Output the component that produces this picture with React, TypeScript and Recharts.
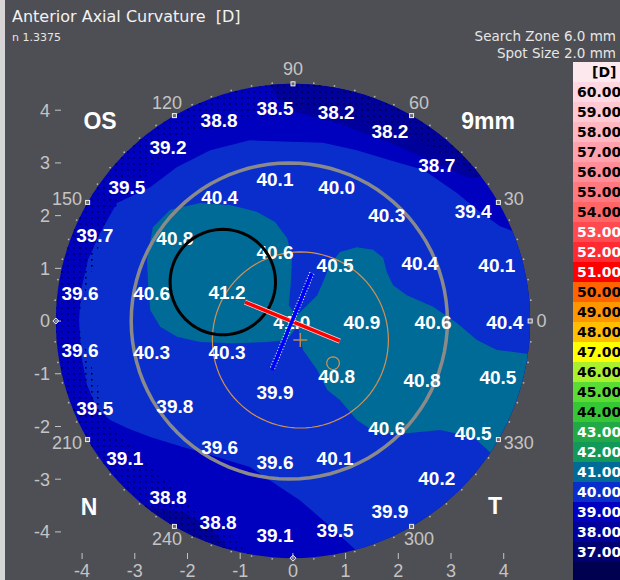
import React from "react";
import { ScatterChart, Scatter, XAxis, YAxis } from "recharts";

const SANS = "'Liberation Sans', Arial, sans-serif";
const VERA = "'DejaVu Sans', Verdana, sans-serif";

// colour scale, dioptres (legend top to bottom)
const scaleValues = [60, 59, 58, 57, 56, 55, 54, 53, 52, 51, 50, 49, 48, 47, 46, 45, 44, 43, 42, 41, 40, 39, 38, 37];
const scaleColors = [
  "#ffd8e2", "#ffc8d2", "#ffb8c2", "#ffa2ae", "#ff8e98", "#ff7a80", "#ff6668", "#ff4a50",
  "#ff2a32", "#ff0000", "#ff6400", "#ff9600", "#ffbe00", "#ffff00", "#aaf02c", "#5adc34",
  "#36c834", "#22a846", "#129858", "#006b96", "#0a2ecb", "#0000bf", "#00009a", "#000070",
];
const scaleInk = [
  "#000", "#000", "#000", "#000", "#000", "#000", "#000", "#fff", "#fff", "#fff", "#000", "#000",
  "#000", "#000", "#000", "#000", "#000", "#fff", "#fff", "#fff", "#fff", "#fff", "#fff", "#fff",
];
const colorOf = (d: number) => scaleColors[scaleValues.indexOf(d)];

const axisTicks = [-4, -3, -2, -1, 0, 1, 2, 3, 4];
const meridians = [0, 30, 60, 90, 120, 150, 210, 240, 300, 330];

// curvature readings: x mm, y mm, dioptres
const readings: [number, number, number][] = [
  [-0.34, 4.04, 38.5], [0.82, 3.95, 38.2], [-1.4, 3.8, 38.8], [1.84, 3.59, 38.2],
  [-2.37, 3.3, 39.2], [2.73, 2.96, 38.7], [-3.15, 2.54, 39.5], [-0.34, 2.68, 40.1],
  [0.83, 2.54, 40.0], [-1.39, 2.35, 40.4], [3.42, 2.07, 39.4], [1.78, 2.01, 40.3],
  [-3.76, 1.63, 39.7], [-2.24, 1.57, 40.8], [-0.34, 1.31, 40.6], [0.8, 1.06, 40.5],
  [2.41, 1.1, 40.4], [3.87, 1.06, 40.1], [-4.04, 0.53, 39.6], [-2.68, 0.53, 40.6],
  [-1.25, 0.55, 41.2], [-0.02, -0.02, 41.0], [1.31, -0.02, 40.9], [2.66, -0.02, 40.6],
  [4.02, -0.02, 40.4], [-4.04, -0.55, 39.6], [-2.68, -0.59, 40.3], [-1.25, -0.59, 40.3],
  [0.83, -1.06, 40.8], [2.45, -1.12, 40.8], [3.89, -1.08, 40.5], [-0.34, -1.35, 39.9],
  [-3.76, -1.65, 39.5], [-2.24, -1.63, 39.8], [1.78, -2.03, 40.6], [3.42, -2.13, 40.5],
  [-1.39, -2.39, 39.6], [-3.19, -2.6, 39.1], [-0.34, -2.69, 39.6], [0.8, -2.6, 40.1],
  [2.73, -2.98, 40.2], [-2.37, -3.34, 38.8], [-1.42, -3.83, 38.8], [1.84, -3.62, 39.9],
  [-0.34, -4.06, 39.1], [0.8, -3.97, 39.5],
];

// iso-curvature zones (mm); points beyond the 9 mm disk are clipped away
const zone38Top: [number, number][] = [
  [-0.53, 4.76], [-0.32, 4.27], [-0.06, 4.0], [0.89, 3.74], [1.84, 3.38], [2.6, 3.05],
  [3.36, 2.71], [4.31, 2.87], [2.03, 4.76],
];
const zone38Low: [number, number][] = [
  [-3.0, -3.49], [-2.09, -3.62], [-1.57, -3.93], [-1.16, -4.38], [-1.01, -4.82], [-3.28, -4.25],
];
const zone40: [number, number][] = [
  [4.78, 1.54], [4.31, 1.65], [3.93, 1.8], [3.55, 2.07], [3.11, 2.43], [2.47, 2.87], [1.84, 3.05],
  [1.21, 3.24], [0.57, 3.38], [-0.06, 3.4], [-0.82, 3.43], [-1.57, 3.24], [-2.2, 2.92], [-2.71, 2.54],
  [-3.34, 2.24], [-3.66, 1.67], [-3.89, 1.16], [-4.02, 0.59], [-4.06, 0.02], [-4.02, -0.65],
  [-3.91, -1.21], [-3.72, -1.65], [-3.47, -1.88], [-3.15, -2.03], [-2.71, -2.2], [-2.09, -2.39],
  [-1.44, -2.58], [-0.82, -2.77], [-0.25, -3.15], [0.13, -3.4], [0.57, -3.78], [0.99, -4.16],
  [1.31, -4.46], [1.5, -4.88], [3.55, -4.54], [5.16, -1.88], [5.26, 0.4],
];
const zone41: [number, number][] = [
  [-2.77, 1.16], [-2.66, 1.78], [-2.33, 2.11], [-1.76, 2.24], [-1.2, 2.2], [-0.68, 2.07], [-0.34, 1.88],
  [-0.11, 1.57], [-0.02, 1.2], [-0.04, 0.74], [-0.08, 0.3], [0.06, 0.09], [0.27, 0.3], [0.46, 0.49],
  [0.57, 0.74], [0.7, 1.06], [0.89, 1.31], [1.21, 1.4], [1.52, 1.35], [1.71, 1.2], [1.78, 0.93],
  [1.9, 0.68], [2.16, 0.49], [2.66, 0.27], [3.11, -0.04], [3.49, -0.36], [3.87, -0.55], [4.36, -0.61],
  [5.07, -0.7], [4.78, -2.83], [3.74, -2.49], [3.42, -2.2], [2.79, -2.07], [2.16, -2.13], [1.59, -2.13],
  [1.21, -1.88], [0.89, -1.5], [0.65, -1.31], [0.46, -0.93], [0.19, -0.55], [0.09, -0.08], [-0.11, -0.36],
  [-0.49, -0.4], [-1.14, -0.42], [-1.76, -0.4], [-2.2, -0.3], [-2.52, -0.11], [-2.71, 0.21], [-2.75, 0.72],
];
// extrapolated rim (dotted): [deg, inner radius mm]
const dottedRim: [number, number][] = [
  [35, 4.5], [45, 4.3], [60, 4.15], [90, 4.1], [120, 4.05], [150, 4.05], [180, 4.1],
  [210, 4.0], [240, 4.0], [252, 4.2], [260, 4.5],
];

const DISK_R = 4.5;
const searchZone = { x: -0.07, y: 0, r: 3.0 };
const pupil = { x: 0.14, y: -0.36, r: 1.67 };
const steepSpot = { x: -1.33, y: 0.74, r: 1.0 };
const apexMark = { x: 0.76, y: -0.8, r: 0.12 };
const steepAxis: [number, number][] = [[-0.91, 0.36], [0.89, -0.38]];
const flatAxis: [number, number][] = [[0.36, 0.91], [-0.4, -0.93]];

type P = { x: number; y: number };
const toPts = (a: [number, number][]): P[] => a.map(([x, y]) => ({ x, y }));
const polar = (deg: number, r: number): P => ({
  x: r * Math.cos((deg * Math.PI) / 180),
  y: r * Math.sin((deg * Math.PI) / 180),
});
const ring = (c: { x: number; y: number; r: number }, n = 96): P[] =>
  Array.from({ length: n }, (_, i) => {
    const t = (i / n) * 2 * Math.PI;
    return { x: c.x + c.r * Math.cos(t), y: c.y + c.r * Math.sin(t) };
  });
const pathOf = (pts: P[], close = true) =>
  "M" + pts.map((p) => `${p.x.toFixed(2)},${p.y.toFixed(2)}`).join("L") + (close ? "Z" : "");

const rimBand: P[] = [
  ...dottedRim.map(([a, r]) => polar(a, r)),
  ...dottedRim.slice().reverse().map(([a]) => polar(a, 4.85)),
];
const rimTicks = Array.from({ length: 72 }, (_, i) => polar(i * 5, 4.53));
const meridianMarks = meridians.map((a) => polar(a, DISK_R));
const axisMarks = [polar(180, DISK_R), polar(270, DISK_R)];
const meridianLabels = meridians.map((a) => {
  const c = Math.cos((a * Math.PI) / 180);
  const side = Math.abs(c) > 0.8;
  const p = polar(a, side ? 4.62 : 4.78);
  return { ...p, text: String(a), anchor: side ? (c > 0 ? "start" : "end") : "middle" };
});
const readingPts = readings.map(([x, y, v]) => ({ x, y, v }));

const none = () => <g />;
const fillShape = (fill: string) => (p: any) => (
  <path d={pathOf(p.points)} fill={fill} stroke="none" clipPath="url(#disk)" />
);
const outline = (stroke: string, width: number) => (p: any) => (
  <path d={pathOf(p.points)} fill="none" stroke={stroke} strokeWidth={width} />
);
const diskShape = (p: any) => {
  const d = pathOf(p.points);
  return (
    <g>
      <defs>
        <clipPath id="disk"><path d={d} /></clipPath>
      </defs>
      <path d={d} fill={colorOf(39)} />
    </g>
  );
};
const dottedShape = (p: any) => (
  <g>
    <defs>
      <pattern id="rimdots" x="0" y="0" width="6" height="6" patternUnits="userSpaceOnUse">
        <rect x="1" y="1" width="1.6" height="1.6" fill="#000000" />
      </pattern>
    </defs>
    <path d={pathOf(p.points)} fill="url(#rimdots)" stroke="none" clipPath="url(#disk)" />
  </g>
);
const axisLine = (color: string, dashed: boolean) => (p: any) => {
  const d = pathOf(p.points, false);
  return (
    <g>
      <path d={d} stroke={dashed ? "#ffffff" : "#ffd0d0"} strokeWidth={dashed ? 5.5 : 5} strokeDasharray={dashed ? "1 2" : undefined} fill="none" />
      <path d={d} stroke={color} strokeWidth={3.5} fill="none" />
    </g>
  );
};

const common = { isAnimationActive: false, legendType: "none" as const };

function MapLayer() {
  // hidden axes: 52.7 px per mm, centre at (293, 321)
  return (
    <ScatterChart width={620} height={580} margin={{ top: 62.77, right: 37.15, bottom: 0.77, left: 3.15 }}>
      <XAxis type="number" dataKey="x" domain={[-5.5, 5.5]} hide />
      <YAxis type="number" dataKey="y" domain={[-4.9, 4.9]} hide />
      <Scatter data={ring({ x: 0, y: 0, r: DISK_R }, 144)} shape={none} line={diskShape} {...common} />
      <Scatter data={toPts(zone38Top)} shape={none} line={fillShape(colorOf(38))} {...common} />
      <Scatter data={toPts(zone38Low)} shape={none} line={fillShape(colorOf(38))} {...common} />
      <Scatter data={toPts(zone40)} shape={none} line={fillShape(colorOf(40))} {...common} />
      <Scatter data={toPts(zone41)} shape={none} line={fillShape(colorOf(41))} {...common} />
      <Scatter data={rimBand} shape={none} line={dottedShape} {...common} />
      <Scatter data={ring(searchZone)} shape={none} line={outline("#8a8a8a", 3.5)} {...common} />
      <Scatter data={ring(pupil)} shape={none} line={outline("#d49050", 1.2)} {...common} />
      <Scatter data={ring(apexMark, 24)} shape={none} line={outline("#d49050", 1.2)} {...common} />
      <Scatter
        data={rimTicks}
        shape={(p: any) => <circle cx={p.cx} cy={p.cy} r={0.9} fill="#b4b4b4" />}
        {...common}
      />
      <Scatter
        data={meridianMarks}
        shape={(p: any) => (
          <rect x={p.cx - 2} y={p.cy - 2} width={4} height={4} fill="#6a6a6a" stroke="#eeeeee" strokeWidth={1} />
        )}
        {...common}
      />
      <Scatter
        data={axisMarks}
        shape={(p: any) => (
          <path d={`M${p.cx},${p.cy - 3}L${p.cx + 3},${p.cy}L${p.cx},${p.cy + 3}L${p.cx - 3},${p.cy}Z`} fill="#5a5a8a" stroke="#eeeeee" strokeWidth={1} />
        )}
        {...common}
      />
      <Scatter
        data={meridianLabels}
        shape={(p: any) => (
          <text x={p.cx} y={p.cy} textAnchor={p.payload.anchor} dominantBaseline="central" fill="#c4c4c4" fontFamily={SANS} fontSize={18}>
            {p.payload.text}
          </text>
        )}
        {...common}
      />
    </ScatterChart>
  );
}

function AxisLayer() {
  const tick = { fill: "#c4c4c4", fontSize: 18, fontFamily: SANS };
  return (
    <ScatterChart width={620} height={580} margin={{ top: 89.12, right: 95.2, bottom: 0, left: 0 }}>
      <XAxis type="number" dataKey="x" domain={[-4.4, 4.4]} ticks={axisTicks} interval={0} height={27}
        axisLine={false} tickLine={{ stroke: "#c4c4c4" }} tickSize={6} tickMargin={5} tick={tick} />
      <YAxis type="number" dataKey="y" domain={[-4.4, 4.4]} ticks={axisTicks} interval={0} width={61}
        axisLine={false} tickLine={{ stroke: "#c4c4c4" }} tickSize={6} tickMargin={5} tick={tick} />
      <Scatter
        data={readingPts}
        shape={(p: any) => (
          <text x={p.cx} y={p.cy} textAnchor="middle" dominantBaseline="central" fill="#fff" fontFamily={SANS} fontWeight={700} fontSize={19}>
            {p.payload.v.toFixed(1)}
          </text>
        )}
        {...common}
      />
      <Scatter data={ring(steepSpot)} shape={none} line={outline("#000", 3)} {...common} />
      <Scatter data={toPts(steepAxis)} shape={none} line={axisLine("#ff0000", false)} {...common} />
      <Scatter data={toPts(flatAxis)} shape={none} line={axisLine("#0000ff", true)} {...common} />
      <Scatter
        data={[{ x: pupil.x, y: pupil.y }]}
        shape={(p: any) => (
          <path d={`M${p.cx - 7},${p.cy}H${p.cx + 7}M${p.cx},${p.cy - 7}V${p.cy + 7}`} stroke="#b88a5a" strokeWidth={1.5} />
        )}
        {...common}
      />
    </ScatterChart>
  );
}

const abs = (x: number, y: number, extra: React.CSSProperties = {}): React.CSSProperties => ({
  position: "absolute", left: x, top: y, transform: "translate(-50%, -50%)", lineHeight: 1, whiteSpace: "pre", ...extra,
});

export default function App() {
  const corner = { color: "#fff", fontFamily: SANS, fontWeight: 700, fontSize: 23 };
  return (
    <div style={{ position: "absolute", left: 0, top: 0, width: 620, height: 580, background: "#4e4f54", overflow: "hidden" }}>
      <div style={{ position: "absolute", left: 0, top: 0, width: 5, height: 580, background: "#d6d6d6" }} />
      <div style={{ position: "absolute", left: 0, top: 0 }}><MapLayer /></div>
      <div style={{ position: "absolute", left: 0, top: 0 }}><AxisLayer /></div>

      <div style={{ position: "absolute", left: 12, top: 17, transform: "translateY(-50%)", lineHeight: 1, whiteSpace: "pre", color: "#f2f2f2", fontFamily: VERA, fontSize: 16 }}>
        {"Anterior Axial Curvature  [D]"}
      </div>
      <div style={{ position: "absolute", left: 12, top: 37, transform: "translateY(-50%)", lineHeight: 1, color: "#e6e6e6", fontFamily: VERA, fontSize: 11 }}>
        n 1.3375
      </div>
      <div style={{ position: "absolute", right: 4, top: 37, transform: "translateY(-50%)", lineHeight: 1, whiteSpace: "pre", color: "#e6e6e6", fontFamily: VERA, fontSize: 13.5 }}>
        Search Zone 6.0 mm
      </div>
      <div style={{ position: "absolute", right: 4, top: 54, transform: "translateY(-50%)", lineHeight: 1, whiteSpace: "pre", color: "#e6e6e6", fontFamily: VERA, fontSize: 13.5 }}>
        Spot Size 2.0 mm
      </div>

      <div style={abs(100, 121, corner)}>OS</div>
      <div style={abs(488, 121, corner)}>9mm</div>
      <div style={abs(89, 507, corner)}>N</div>
      <div style={abs(495, 506, corner)}>T</div>

      <div style={{ position: "absolute", left: 573, top: 62, width: 47, height: 518, overflow: "hidden", fontFamily: VERA, fontWeight: 700, fontSize: 14 }}>
        <div style={{ height: 20, lineHeight: "20px", background: "#fde8ee", color: "#000", paddingLeft: 19 }}>[D]</div>
        {scaleValues.map((v, i) => (
          <div key={v} style={{ height: 20, lineHeight: "20px", background: scaleColors[i], color: scaleInk[i], paddingLeft: 4, whiteSpace: "pre" }}>
            {v.toFixed(2)}
          </div>
        ))}
        <div style={{ height: 20, background: "#000050" }} />
      </div>
    </div>
  );
}
